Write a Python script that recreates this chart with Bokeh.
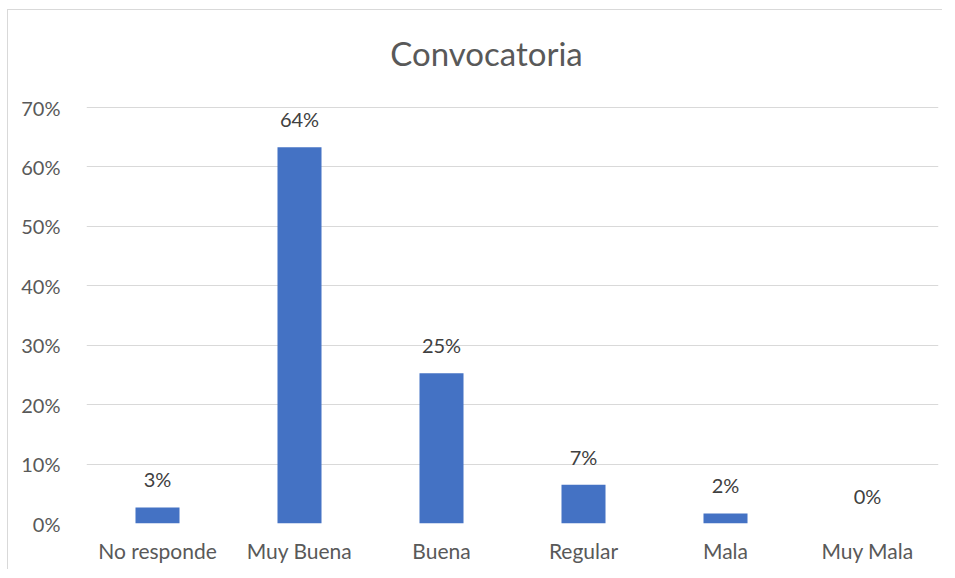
from bokeh.plotting import figure
from bokeh.models import ColumnDataSource, NumeralTickFormatter, FixedTicker, Label
from bokeh.embed import file_html
from bokeh.resources import INLINE

categories = ["No responde", "Muy Buena", "Buena", "Regular", "Mala", "Muy Mala"]
values = [0.027, 0.633, 0.253, 0.065, 0.017, 0.0]
labels = ["3%", "64%", "25%", "7%", "2%", "0%"]
y_ticks = [0.0, 0.1, 0.2, 0.3, 0.4, 0.5, 0.6, 0.7]
title_text = "Convocatoria"

FONT = "Lato"
GREY = "#595959"

# layout: frame extends above the 70% line so the title can sit inside it
FRAME_H = 503          # frame height in px
AXIS_H = 416           # px between 0% and 70% gridlines
y_end = 0.7 * FRAME_H / AXIS_H

source = ColumnDataSource(dict(cat=categories, val=values, lab=labels))

p = figure(x_range=categories, y_range=(0, y_end), width=935, height=560,
           output_backend="svg", toolbar_location=None,
           min_border_left=78, min_border_right=5, min_border_top=10, min_border_bottom=47)
p.title = None
p.outline_line_color = None
p.styles = {"margin-top": "9px", "margin-left": "7px",
            "border-top": "1px solid #d9d9d9", "border-left": "1px solid #d9d9d9"}

p.add_layout(Label(x=400, y=471, x_units="screen", y_units="screen", text=title_text,
                   text_align="center", text_baseline="middle", text_font=FONT,
                   text_font_size="33px", text_color=GREY))

p.vbar(x="cat", top="val", width=0.31, source=source, fill_color="#4472C4",
       line_color=None)
p.text(x="cat", y="val", text="lab", source=source, text_align="center",
       text_baseline="bottom", y_offset=-16, text_font_size="20px",
       text_color="#404040", text_font={"value": FONT})

p.xgrid.grid_line_color = None
p.ygrid.grid_line_color = "#d9d9d9"
p.ygrid.grid_line_width = 1.2
p.yaxis.ticker = FixedTicker(ticks=y_ticks)
p.yaxis.formatter = NumeralTickFormatter(format="0%")

for ax in (p.xaxis[0], p.yaxis[0]):
    ax.axis_line_color = None
    ax.major_tick_line_color = None
    ax.minor_tick_line_color = None
    ax.major_label_text_font = FONT
    ax.major_label_text_color = GREY
p.yaxis.major_label_text_font_size = "20px"
p.xaxis.major_label_text_font_size = "21px"
p.yaxis.major_label_standoff = 20
p.xaxis.major_label_standoff = 8
p.x_range.range_padding = 0

open("out.html", "w").write(file_html(p, INLINE))
